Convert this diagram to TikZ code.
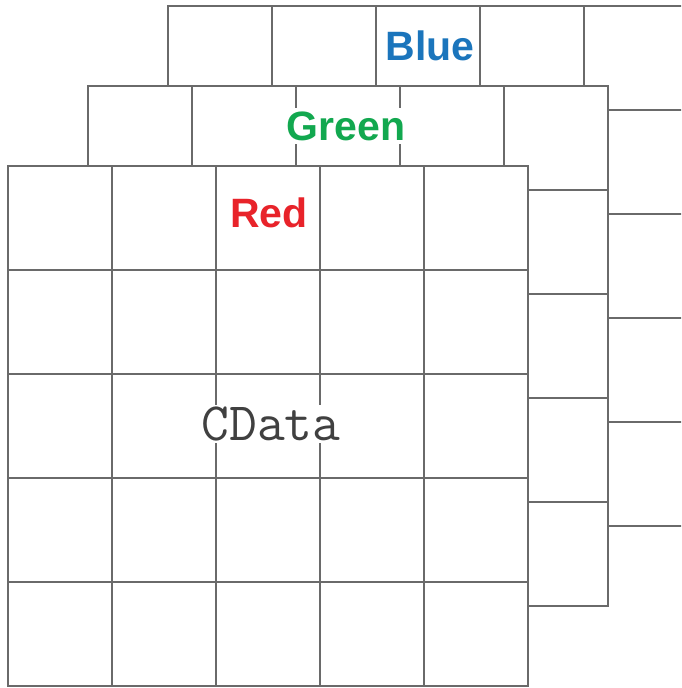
\documentclass[tikz,border=0pt]{standalone}
\usepackage{fontspec}
\setmainfont{Liberation Sans}
\definecolor{gridgray}{HTML}{6A6A6A}
\definecolor{lblblue}{HTML}{1B75BC}
\definecolor{lblgreen}{HTML}{12A84F}
\definecolor{lblred}{HTML}{E8232A}
\definecolor{cdgray}{HTML}{404040}
\begin{document}
\begin{tikzpicture}[x=1pt,y=-1pt,
  gridline/.style={draw=gridgray, line width=2.6pt, line cap=rect},
  lbl/.style={fill=white, inner xsep=1pt, inner ysep=3pt, font=\bfseries\fontsize{41}{41}\selectfont},
  cdlbl/.style={fill=white, inner sep=2pt, text=cdgray, font=\ttfamily\fontsize{54}{54}\selectfont}]
\useasboundingbox (0,0) rectangle (681,688);
\clip (0,0) rectangle (681,688);
% three stacked 5x5 grids: blue (back), green, red (front)
\foreach \ox/\oy in {160/-160, 80/-80, 0/0}{
  \fill[white] (8+\ox,166+\oy) rectangle (528+\ox,686+\oy);
  \foreach \i in {0,...,5}{
    \draw[gridline] (8+\ox+104*\i,166+\oy) -- (8+\ox+104*\i,686+\oy);
    \draw[gridline] (8+\ox,166+\oy+104*\i) -- (528+\ox,166+\oy+104*\i);
  }
  \ifnum\ox=160
    \node[lbl, text=lblblue] (blue) at (430,46) {Blue};
  \fi
  \ifnum\ox=80
    \node[lbl, text=lblgreen] (green) at (346,126) {Green};
  \fi
}
\node[lbl, text=lblred, fill=none] (red) at (269,213) {Red};
\node[cdlbl] (cdata) at (271,424) {CData};
\end{tikzpicture}
\end{document}
